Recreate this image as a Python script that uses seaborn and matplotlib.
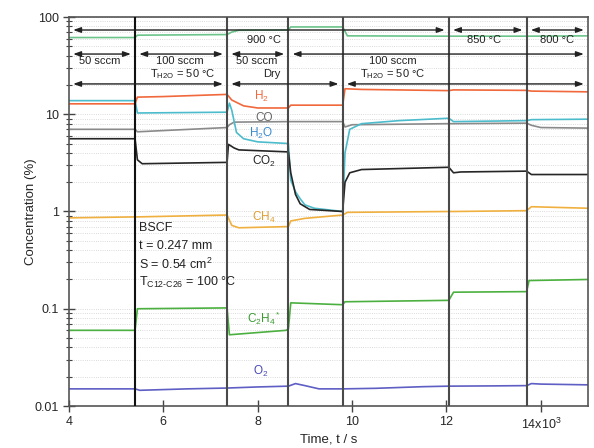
import numpy as np
import pandas as pd
import matplotlib
matplotlib.use("Agg")
import matplotlib.pyplot as plt
from matplotlib.ticker import LogLocator, NullFormatter
import seaborn as sns

# ---------------- data (time in s, concentration in %) ----------------
bal_t = [4000, 5400, 5450, 7350, 7450, 7600, 8650, 8700, 9800, 9900, 12050, 13700, 15000]
bal_v = [61.5, 61.5, 65, 66, 70, 73, 73.5, 79, 79, 64, 63.5, 63.5, 64]

h2_t = [4000, 5400, 5450, 6000, 7350, 7450, 7700, 8000, 8650, 8700, 9800, 9850, 10200, 12050, 12150, 13700, 13800, 15000]
h2_v = [12.8, 12.8, 15.0, 15.2, 16.0, 14.0, 12.2, 11.6, 11.6, 12.4, 12.4, 18.3, 18.0, 17.5, 17.8, 17.6, 17.3, 17.0]

h2o_t = [4000, 5400, 5450, 7350, 7400, 7450, 7550, 7700, 8000, 8650, 8700, 8800, 8900, 9000, 9200, 9800,
         9850, 9950, 10200, 11000, 12050, 12150, 13700, 13800, 15000]
h2o_v = [13.8, 13.8, 10.3, 10.5, 13.0, 11.0, 6.5, 5.6, 5.2, 5.0, 2.1, 1.6, 1.35, 1.17, 1.08, 1.0,
         4.0, 7.0, 8.0, 8.6, 9.1, 8.4, 8.6, 8.8, 8.9]

co_t = [4000, 5400, 5450, 7350, 7400, 7500, 8650, 9800, 9850, 10000, 12050, 12150, 13700, 13800, 14000, 15000]
co_v = [7.0, 7.0, 6.6, 7.3, 7.8, 8.3, 8.4, 8.4, 7.4, 7.8, 8.0, 8.0, 8.1, 7.7, 7.3, 7.2]

co2_t = [4000, 5400, 5450, 5550, 7350, 7380, 7500, 7600, 8650, 8700, 8800, 8900, 9100, 9800,
         9850, 9950, 10200, 12050, 12150, 12300, 13700, 13800, 15000]
co2_v = [5.6, 5.6, 3.4, 3.1, 3.2, 4.9, 4.5, 4.3, 4.1, 2.5, 1.5, 1.2, 1.05, 1.0,
         2.0, 2.5, 2.7, 2.85, 2.5, 2.55, 2.6, 2.4, 2.4]

ch4_t = [4000, 5400, 5450, 7350, 7450, 7600, 8650, 8700, 9000, 9800, 9900, 12050, 12150, 13700, 13800, 15000]
ch4_v = [0.86, 0.88, 0.88, 0.92, 0.72, 0.68, 0.70, 0.80, 0.85, 0.92, 0.98, 1.0, 1.0, 1.02, 1.12, 1.08]

c2h4_t = [4000, 5400, 5450, 7350, 7400, 8600, 8650, 8700, 9800, 9850, 12050, 12150, 13700, 13750, 15000]
c2h4_v = [0.060, 0.060, 0.100, 0.102, 0.054, 0.060, 0.062, 0.115, 0.110, 0.118, 0.122, 0.148, 0.150, 0.195, 0.20]

o2_t = [4000, 5400, 5500, 6500, 7350, 8000, 8650, 8800, 9000, 9300, 9800, 10500, 11500, 12050, 13000, 13700, 13800, 14000, 15000]
o2_v = [0.0150, 0.0150, 0.0145, 0.0150, 0.0153, 0.0157, 0.0160, 0.0170, 0.0162, 0.0150, 0.0150, 0.0152,
        0.0158, 0.0160, 0.0161, 0.0162, 0.0170, 0.0168, 0.0165]

boundaries = [5400, 7350, 8650, 9800, 12050, 13700]
x_ticks = [4000, 6000, 8000, 10000, 12000, 14000]
x_tick_labels = ["4", "6", "8", "10", "12", "14x10$^3$"]
y_ticks = [0.01, 0.1, 1, 10, 100]
y_tick_labels = ["0.01", "0.1", "1", "10", "100"]

# ---------------- style ----------------
sns.set_style("ticks")
plt.rcParams["font.family"] = ["Liberation Sans", "DejaVu Sans"]
plt.rcParams["mathtext.fontset"] = "custom"
plt.rcParams["mathtext.rm"] = "Liberation Sans"
plt.rcParams["mathtext.it"] = "Liberation Sans"
plt.rcParams["mathtext.default"] = "regular"

fig = plt.figure(figsize=(5.94, 4.48), dpi=100)
ax = fig.add_axes([69 / 594, 42 / 448, 519 / 594, 389 / 448])

series = [
    (bal_t, bal_v, "#6cc48a"),
    (co_t, co_v, "#8a8a8a"),
    (h2o_t, h2o_v, "#4cbccc"),
    (h2_t, h2_v, "#f0683c"),
    (co2_t, co2_v, "#262626"),
    (ch4_t, ch4_v, "#f0b040"),
    (c2h4_t, c2h4_v, "#4cb040"),
    (o2_t, o2_v, "#5e5ec4"),
]
for t, v, c in series:
    df = pd.DataFrame({"t": t, "v": v})
    sns.lineplot(data=df, x="t", y="v", color=c, lw=1.2, ax=ax, estimator=None, sort=False)

ax.set_yscale("log")
ax.set_xlim(4000, 15000)
ax.set_ylim(0.01, 100)

ax.yaxis.set_minor_locator(LogLocator(base=10, subs=np.arange(2, 10)))
ax.yaxis.set_minor_formatter(NullFormatter())
ax.yaxis.grid(True, which="both", ls=":", color="#cfcfcf", lw=0.6)
ax.set_axisbelow(True)

ax.set_xticks(x_ticks)
ax.set_xticklabels(x_tick_labels)
ax.set_yticks(y_ticks)
ax.set_yticklabels(y_tick_labels)
ax.tick_params(axis="both", which="major", labelsize=9, direction="inout", length=8, width=1, color="#444444")
ax.tick_params(axis="y", which="minor", direction="inout", length=4, width=0.8, color="#444444")
for s in ax.spines.values():
    s.set_color("#555555")
    s.set_linewidth(1.2)

ax.set_xlabel("Time, t / s", fontsize=9.5, labelpad=1)
ax.set_ylabel("Concentration (%)", fontsize=9.5, labelpad=-2)

# vertical boundaries
for i, b in enumerate(boundaries):
    ax.axvline(b, color="#111111" if i == 0 else "#4a4a4a", lw=1.5, zorder=5)

# annotation rows
arrow_kw = dict(arrowstyle="<|-|>,head_length=0.45,head_width=0.16", color="#222222", lw=1.0,
                shrinkA=3, shrinkB=3)
rows = [
    (73.5, [4000, 12050, 13700, 15000]),
    (41.6, [4000, 5400, 7350, 8650, 15000]),
    (20.5, [4000, 7350, 9800, 15000]),
]
for yv, edges in rows:
    for a, b in zip(edges[:-1], edges[1:]):
        ax.annotate("", xy=(b, yv), xytext=(a, yv), arrowprops=arrow_kw, zorder=6)

tk = dict(fontsize=8, color="#222222", ha="center", va="center", zorder=7)
ax.text(8130, 57.5, "900 °C", **tk)
ax.text(12800, 57.5, "850 °C", **tk)
ax.text(14340, 57.5, "800 °C", **tk)
ax.text(4650, 35.5, "50 sccm", **tk)
ax.text(6340, 35.5, "100 sccm", **tk)
ax.text(6400, 26, "T$_{H2O}$ = 50 °C", **tk)
ax.text(7980, 35.5, "50 sccm", **tk)
ax.text(8300, 26, "Dry", **tk)
ax.text(10860, 35.5, "100 sccm", **tk)
ax.text(10860, 26, "T$_{H2O}$ = 50 °C", **tk)

lk = dict(fontsize=8.5, ha="center", va="center", zorder=7)
ax.text(8070, 15.2, "H$_2$", color="#f0683c", **lk)
ax.text(8130, 9.2, "CO", color="#666666", **lk)
ax.text(8070, 6.3, "H$_2$O", color="#3a8ad0", **lk)
ax.text(8130, 3.3, "CO$_2$", color="#222222", **lk)
ax.text(8130, 0.86, "CH$_4$", color="#e0a030", **lk)
ax.text(8130, 0.080, "C$_2$H$_4$$^*$", color="#3a9a30", **lk)
ax.text(8070, 0.0225, "O$_2$", color="#4848b8", **lk)

bk = dict(fontsize=9, ha="left", va="center", color="#222222", zorder=7)
ax.text(5480, 0.68, "BSCF", **bk)
ax.text(5480, 0.44, "t = 0.247 mm", **bk)
ax.text(5480, 0.285, "S = 0.54 cm$^2$", **bk)
ax.text(5480, 0.185, r"T$_{C12\text{-}C26}$ = 100 °C", **bk)

fig.savefig("out.png", dpi=100)
